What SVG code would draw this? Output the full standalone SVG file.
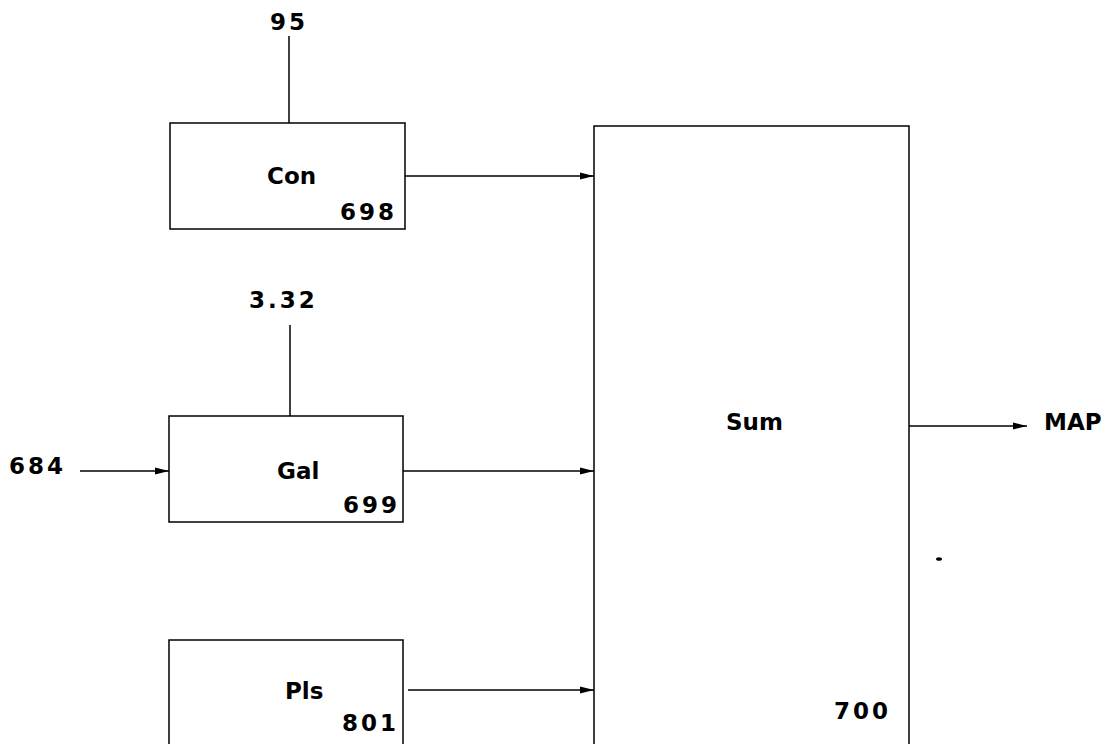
<svg xmlns="http://www.w3.org/2000/svg" width="1109" height="744" viewBox="0 0 1109 744">
<style>
  .box{fill:none;stroke:#000;stroke-width:1.5}
  .ln{fill:none;stroke:#000;stroke-width:1.5}
  .t{font-family:"DejaVu Sans",sans-serif;font-weight:bold;font-size:23px;fill:#000}
  .n{letter-spacing:3px}
</style>
<defs>
  <marker id="arr" markerWidth="16" markerHeight="10" refX="14" refY="5" orient="auto" markerUnits="userSpaceOnUse">
    <path d="M0,1.5 L14,5 L0,8.5 Z" fill="#000"/>
  </marker>
</defs>
<rect width="1109" height="744" fill="#fff"/>
<g id="con">
  <rect class="box" x="170" y="123" width="235" height="106"/>
  <text class="t" x="267" y="184">Con</text>
  <text class="t n" x="340" y="220">698</text>
</g>
<g id="gal">
  <rect class="box" x="169" y="416" width="234" height="106"/>
  <text class="t" x="277" y="479">Gal</text>
  <text class="t n" x="343" y="513">699</text>
</g>
<g id="pls">
  <rect class="box" x="169" y="640" width="234" height="120"/>
  <text class="t" x="285" y="699">Pls</text>
  <text class="t n" x="342" y="731">801</text>
</g>
<g id="sum">
  <rect class="box" x="594" y="126" width="315" height="640"/>
  <text class="t" x="726" y="430">Sum</text>
  <text class="t n" x="834" y="719">700</text>
</g>
<g id="labels">
  <text class="t n" x="270" y="30">95</text>
  <text class="t n" x="249" y="308">3.32</text>
  <text class="t n" x="9" y="474">684</text>
  <text class="t" x="1044" y="430">MAP</text>
</g>
<g id="connectors">
  <line class="ln" x1="289" y1="36" x2="289" y2="123"/>
  <line class="ln" x1="290" y1="325" x2="290" y2="416"/>
  <line class="ln" x1="405" y1="176" x2="594" y2="176" marker-end="url(#arr)"/>
  <line class="ln" x1="403" y1="471" x2="594" y2="471" marker-end="url(#arr)"/>
  <line class="ln" x1="408" y1="690" x2="594" y2="690" marker-end="url(#arr)"/>
  <line class="ln" x1="80" y1="471" x2="169" y2="471" marker-end="url(#arr)"/>
  <line class="ln" x1="909" y1="426" x2="1027" y2="426" marker-end="url(#arr)"/>
</g>
<ellipse cx="939" cy="559" rx="3" ry="1.8" fill="#000"/>
</svg>
